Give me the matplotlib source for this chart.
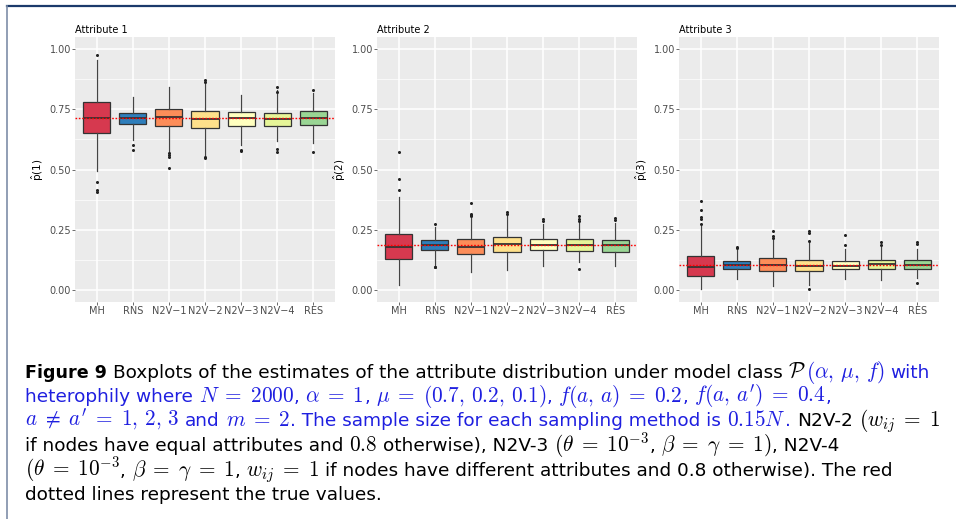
import matplotlib.pyplot as plt
from matplotlib.lines import Line2D
from matplotlib.ticker import MultipleLocator

# categories and colours
methods = ["MH", "RNS", "N2V\u22121", "N2V\u22122", "N2V\u22123", "N2V\u22124", "RES"]
colors = ["#D6394F", "#2E7EBB", "#FC8D59", "#FEE08B", "#FFFFBF", "#E6F598", "#99D594"]

titles = ["Attribute 1", "Attribute 2", "Attribute 3"]
ylabels = [r"$\hat{\mathrm{p}}(1)$", r"$\hat{\mathrm{p}}(2)$", r"$\hat{\mathrm{p}}(3)$"]
true_vals = [0.7125, 0.185, 0.105]

# box summaries (one list per attribute, one value per method)
q1_1 = [0.653, 0.687, 0.680, 0.673, 0.680, 0.680, 0.683]
med_1 = [0.715, 0.712, 0.717, 0.710, 0.712, 0.711, 0.714]
q3_1 = [0.781, 0.735, 0.750, 0.744, 0.737, 0.736, 0.742]
lo_1 = [0.494, 0.622, 0.573, 0.560, 0.600, 0.618, 0.611]
hi_1 = [0.955, 0.800, 0.842, 0.858, 0.811, 0.828, 0.817]
out_1 = [[0.977, 0.447, 0.414, 0.407], [0.601, 0.580], [0.567, 0.560, 0.553, 0.507],
         [0.870, 0.864, 0.553, 0.548], [0.580, 0.576], [0.842, 0.820, 0.584, 0.573],
         [0.830, 0.573]]

q1_2 = [0.128, 0.167, 0.150, 0.157, 0.164, 0.161, 0.158]
med_2 = [0.179, 0.187, 0.178, 0.190, 0.187, 0.185, 0.185]
q3_2 = [0.233, 0.208, 0.211, 0.219, 0.211, 0.210, 0.208]
lo_2 = [0.021, 0.101, 0.076, 0.083, 0.098, 0.118, 0.098]
hi_2 = [0.386, 0.261, 0.300, 0.310, 0.275, 0.279, 0.279]
out_2 = [[0.573, 0.460, 0.414], [0.275, 0.097, 0.094], [0.362, 0.317, 0.310, 0.305],
         [0.322, 0.315], [0.293, 0.285], [0.305, 0.296, 0.285, 0.088],
         [0.300, 0.291]]

q1_3 = [0.058, 0.086, 0.080, 0.080, 0.086, 0.086, 0.086]
med_3 = [0.094, 0.104, 0.105, 0.099, 0.101, 0.108, 0.104]
q3_3 = [0.140, 0.121, 0.132, 0.126, 0.122, 0.125, 0.125]
lo_3 = [0.002, 0.047, 0.017, 0.020, 0.046, 0.043, 0.050]
hi_3 = [0.264, 0.164, 0.210, 0.202, 0.171, 0.178, 0.171]
out_3 = [[0.368, 0.333, 0.302, 0.294, 0.272], [0.180, 0.175], [0.243, 0.226, 0.215],
         [0.244, 0.236, 0.205, 0.004], [0.229, 0.188], [0.197, 0.188],
         [0.201, 0.192, 0.028]]

panels = [(q1_1, med_1, q3_1, lo_1, hi_1, out_1),
          (q1_2, med_2, q3_2, lo_2, hi_2, out_2),
          (q1_3, med_3, q3_3, lo_3, hi_3, out_3)]

W, H = 956, 519
fig = plt.figure(figsize=(W / 100, H / 100), dpi=100)
lefts = [75, 377, 679]

for k, (q1, med, q3, lo, hi, out) in enumerate(panels):
    ax = fig.add_axes([lefts[k] / W, 1 - 302 / H, 260 / W, 265 / H])
    ax.set_facecolor("#EBEBEB")
    stats = []
    for i in range(len(methods)):
        stats.append(dict(q1=q1[i], med=med[i], q3=q3[i], whislo=lo[i],
                          whishi=hi[i], fliers=out[i], label=methods[i]))
    bp = ax.bxp(stats, positions=range(1, 8), widths=0.75, patch_artist=True,
                showcaps=False,
                boxprops=dict(edgecolor="#333333", linewidth=0.9),
                medianprops=dict(color="#333333", linewidth=1.3),
                whiskerprops=dict(color="#444444", linewidth=0.9),
                flierprops=dict(marker="o", markersize=2.2, markerfacecolor="#222222",
                                markeredgecolor="none"))
    for patch, c in zip(bp["boxes"], colors):
        patch.set_facecolor(c)
    ax.axhline(true_vals[k], color="red", linestyle=(0, (1.2, 1.2)), linewidth=1.0, zorder=5)

    ax.set_xlim(0.4, 7.6)
    ax.set_ylim(-0.05, 1.05)
    ax.yaxis.set_major_locator(MultipleLocator(0.25))
    ax.yaxis.set_minor_locator(MultipleLocator(0.125))
    ax.set_yticks([0, 0.25, 0.5, 0.75, 1.0])
    ax.set_yticklabels(["0.00", "0.25", "0.50", "0.75", "1.00"])
    ax.set_xticks(range(1, 8))
    ax.set_xticklabels(methods)
    ax.grid(which="major", color="white", linewidth=1.1)
    ax.grid(which="minor", axis="y", color="white", linewidth=0.5)
    ax.set_axisbelow(True)
    for s in ax.spines.values():
        s.set_visible(False)
    ax.tick_params(axis="both", which="major", length=2, width=0.5, color="#333333",
                   labelsize=7, labelcolor="#4D4D4D", pad=1)
    ax.tick_params(axis="y", which="minor", length=0)
    ax.set_ylabel(ylabels[k], fontsize=7.5, labelpad=2)
    ax.set_title(titles[k], loc="left", fontsize=7, pad=3)

# frame around the figure block
fig.add_artist(Line2D([7 / W, 1], [1 - 6 / H, 1 - 6 / H], color="#1B3A6B", linewidth=1.6))
fig.add_artist(Line2D([7 / W, 7 / W], [0, 1 - 6 / H], color="#7E8EA8", linewidth=1.2))

# caption
blue = "#1F1FE0"
black = "black"
caption = [
    [("Figure 9", black, "bold"),
     (" Boxplots of the estimates of the attribute distribution under model class $\\mathcal{P}$", black, "normal"),
     ("$(\\alpha,\\,\\mu,\\,f)$ with", blue, "normal")],
    [("heterophily where $N\\;=\\;2000$, $\\alpha\\;=\\;1$, $\\mu\\;=\\;(0.7,\\,0.2,\\,0.1)$, $f(a,\\,a)\\;=\\;0.2$, $f(a,\\,a')\\;=\\;0.4$,", blue, "normal")],
    [("$a\\;\\neq\\;a'\\;=\\;1,\\,2,\\,3$ and $m\\;=\\;2$. The sample size for each sampling method is $0.15N$.", blue, "normal"),
     (" N2V-2 $(w_{ij}\\;=\\;1$", black, "normal")],
    [("if nodes have equal attributes and $0.8$ otherwise), N2V-3 $(\\theta\\;=\\;10^{-3}$, $\\beta\\;=\\;\\gamma\\;=\\;1)$, N2V-4", black, "normal")],
    [("$(\\theta\\;=\\;10^{-3}$, $\\beta\\;=\\;\\gamma\\;=\\;1$, $w_{ij}\\;=\\;1$ if nodes have different attributes and 0.8 otherwise). The red", black, "normal")],
    [("dotted lines represent the true values.", black, "normal")],
]
baselines = [378, 402, 426, 451, 476, 500]
text_size = 13.3
bold_size = 12.6
math_size = 15.3

renderer = fig.canvas.get_renderer()
t1 = fig.text(0, 0, "x x", fontsize=text_size)
t2 = fig.text(0, 0, "xx", fontsize=text_size)
space_w = t1.get_window_extent(renderer).width - t2.get_window_extent(renderer).width
t1.remove()
t2.remove()


def put(x, yb, s, size, color, weight):
    t = fig.text(x / W, 1 - yb / H, s, fontsize=size, color=color, fontweight=weight,
                 family="DejaVu Sans", math_fontfamily="cm", va="baseline", ha="left")
    return x + t.get_window_extent(renderer).width


for line, yb in zip(caption, baselines):
    x = 25.0
    for s, c, w in line:
        pieces = s.split("$")
        for j, p in enumerate(pieces):
            if p == "":
                continue
            if j % 2 == 1:
                x = put(x, yb, "$" + p + "$", math_size, c, w)
            else:
                lead = len(p) - len(p.lstrip(" "))
                trail = len(p) - len(p.rstrip(" "))
                x += lead * space_w
                if p.strip():
                    size = bold_size if w == "bold" else text_size
                    x = put(x, yb, p.strip(), size, c, w)
                x += trail * space_w

fig.savefig("out.png", dpi=100)
